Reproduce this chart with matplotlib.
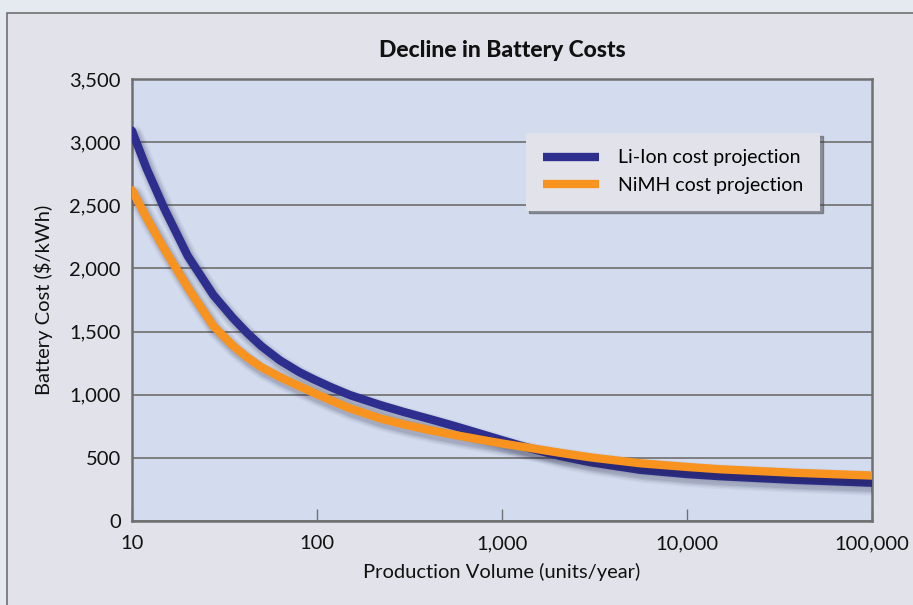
import matplotlib
matplotlib.use("Agg")
import matplotlib.pyplot as plt
import matplotlib.patheffects as pe
from matplotlib.patches import Rectangle
from matplotlib.ticker import FixedLocator, NullLocator

plt.rcParams['font.family'] = ['Lato', 'DejaVu Sans']

volume = [10, 12, 15, 20, 27.5, 35, 42, 50, 63, 80, 96, 118, 150, 220, 300, 410, 560,
          760, 1000, 1420, 2060, 3000, 5600, 10000, 15000, 38000, 100000]
li_ion = [3090, 2790, 2470, 2100, 1790, 1610, 1488, 1385, 1272, 1180, 1122, 1062, 998,
          918, 860, 806, 750, 692, 640, 575, 515, 466, 405, 372, 355, 326, 303]
nimh = [2620, 2400, 2150, 1850, 1545, 1390, 1295, 1218, 1140, 1068, 1015, 957, 893,
        812, 762, 718, 680, 645, 614, 578, 540, 504, 457, 428, 410, 382, 360]

x_ticks = [10, 100, 1000, 10000, 100000]
x_labels = ['10', '100', '1,000', '10,000', '100,000']
y_ticks = [0, 500, 1000, 1500, 2000, 2500, 3000, 3500]
y_labels = ['0', '500', '1,000', '1,500', '2,000', '2,500', '3,000', '3,500']

W, H = 913, 605
fig = plt.figure(figsize=(W / 100, H / 100), dpi=100)
fig.patch.set_facecolor('#e4eaf0')
panel = Rectangle((7 / W, -0.01), 1.0, 1.01 - 13 / H, transform=fig.transFigure,
                  facecolor='#e2e2ea', edgecolor='#707070', linewidth=1.2, zorder=-10)
fig.add_artist(panel)

ax = fig.add_axes([132 / W, (H - 521) / H, 740 / W, 442 / H])
ax.set_zorder(5)
ax.set_facecolor('#d3dcee')
ax.set_xscale('log')
ax.set_xlim(10, 100000)
ax.set_ylim(0, 3500)

ax.yaxis.set_major_locator(FixedLocator(y_ticks))
ax.set_yticklabels(y_labels)
ax.xaxis.set_major_locator(FixedLocator(x_ticks))
ax.xaxis.set_minor_locator(NullLocator())
ax.set_xticklabels(x_labels)
ax.grid(axis='y', color='#777777', linewidth=1.3)
ax.set_axisbelow(True)

ax.tick_params(axis='y', length=0, pad=8, labelsize=14.5, labelcolor='#111111')
ax.tick_params(axis='x', direction='in', length=9, width=1, color='#707070', pad=10,
               labelsize=14.5, labelcolor='#111111')
for s in ax.spines.values():
    s.set_color('#707070')
    s.set_linewidth(1.8)

LW = 6.0


def shadow_effects():
    effs = []
    for lw_add, a in [(7, 0.04), (5, 0.06), (3, 0.08), (1, 0.10)]:
        effs.append(pe.SimpleLineShadow(offset=(2, -3), shadow_color='#202040', alpha=a,
                                        linewidth=LW + lw_add))
    effs.append(pe.Normal())
    return effs


ax.plot(volume, li_ion, color='#2e2e8e', linewidth=LW, solid_capstyle='round',
        solid_joinstyle='round', label='Li-Ion cost projection',
        path_effects=shadow_effects(), zorder=3)
ax.plot(volume, nimh, color='#f7931e', linewidth=LW, solid_capstyle='round',
        solid_joinstyle='round', label='NiMH cost projection',
        path_effects=shadow_effects(), zorder=4)

leg = ax.legend(loc='upper right', bbox_to_anchor=(0.93, 0.878), frameon=True,
                fancybox=False, shadow=True, facecolor='#e2e2ea', edgecolor='none',
                fontsize=14, handlelength=2.9, handletextpad=1.0, borderpad=0.85,
                labelspacing=0.55, borderaxespad=0)
leg.get_frame().set_alpha(1)
for line in leg.get_lines():
    line.set_linewidth(LW)
    line.set_path_effects([])
    line.set_solid_capstyle('butt')

ax.set_title('Decline in Battery Costs', fontsize=16.5, fontweight='black', pad=16,
             color='#111111')
ax.set_xlabel('Production Volume (units/year)', fontsize=14.5, labelpad=8, color='#111111')
ax.set_ylabel('Battery Cost ($/kWh)', fontsize=14.5, labelpad=12, color='#111111')

fig.savefig('out.png', dpi=100, facecolor=fig.get_facecolor())
